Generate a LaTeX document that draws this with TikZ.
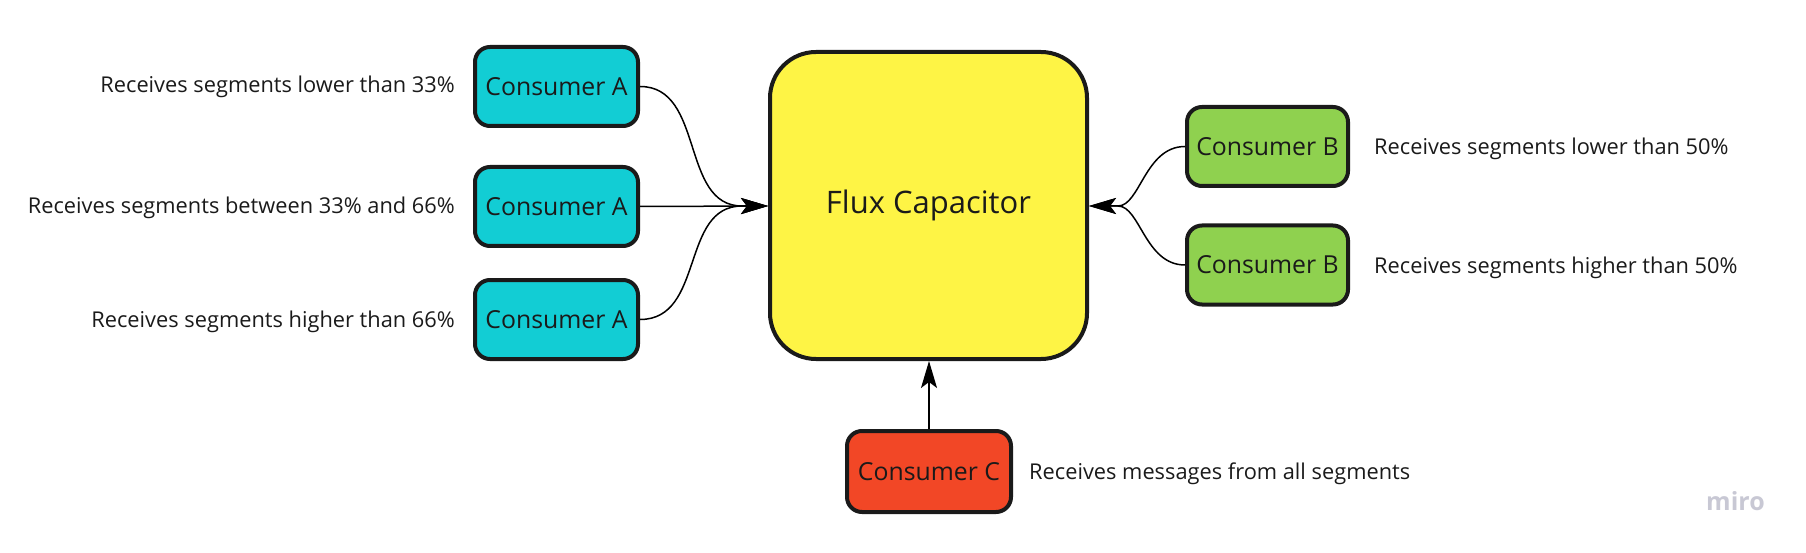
\documentclass[tikz,border=0pt]{standalone}
\usepackage{fontspec}
\setmainfont{Open Sans}
\usetikzlibrary{arrows.meta}
\definecolor{cyanA}{HTML}{12CDD4}
\definecolor{greenB}{HTML}{8FD14F}
\definecolor{redC}{HTML}{F24726}
\definecolor{yellowF}{HTML}{FEF445}
\definecolor{edgeK}{HTML}{1A1A1A}
\definecolor{miroG}{HTML}{C8C8D4}
\tikzset{
  cbox/.style={draw=edgeK, line width=4pt, rounded corners=15pt, inner sep=0pt,
    minimum height=79pt, font=\fontsize{24.8}{30}\selectfont, text=edgeK},
  lbl/.style={inner sep=0pt, font=\fontsize{21.8}{26}\selectfont, text=edgeK},
  conn/.style={line width=1.5pt, black},
  tip/.style={-{Stealth[length=27pt,width=16pt,inset=6pt]}},
}
\begin{document}
\begin{tikzpicture}[x=1pt,y=-1pt]
\useasboundingbox (0,0) rectangle (1806,553);
% main
\node[cbox, fill=yellowF, rounded corners=46pt, minimum width=317pt, minimum height=307pt,
  font=\fontsize{31}{36}\selectfont] (F) at (928.5,205.5) {Flux Capacitor};
% consumers A
\node[cbox, fill=cyanA, minimum width=163pt] (A1) at (556.5,86.5) {Consumer A};
\node[cbox, fill=cyanA, minimum width=163pt] (A2) at (556.5,206.5) {Consumer A};
\node[cbox, fill=cyanA, minimum width=163pt] (A3) at (556.5,319.5) {Consumer A};
% consumers B
\node[cbox, fill=greenB, minimum width=161pt] (B1) at (1267.5,146.5) {Consumer B};
\node[cbox, fill=greenB, minimum width=161pt] (B2) at (1267.5,265) {Consumer B};
% consumer C
\node[cbox, fill=redC, minimum width=164pt, minimum height=81pt] (C) at (929,471.5) {Consumer C};
% merge points
\coordinate (mA) at (742,206);
\coordinate (mB) at (1118,206);
% labels
\node[lbl, anchor=base east] (LA1) at (455,93) {Receives segments lower than 33\%};
\node[lbl, anchor=base east] (LA2) at (455,214) {Receives segments between 33\% and 66\%};
\node[lbl, anchor=base east] (LA3) at (455,327) {Receives segments higher than 66\%};
\node[lbl, anchor=base west] (LB1) at (1374,155) {Receives segments lower than 50\%};
\node[lbl, anchor=base west] (LB2) at (1374,273) {Receives segments higher than 50\%};
\node[lbl, anchor=base west] (LC) at (1029,479) {Receives messages from all segments};
\node[inner sep=0pt, anchor=base west, text=miroG, font=\fontsize{25}{28}\selectfont\bfseries] (miro) at (1706,510) {miro};
% connectors
\draw[conn, tip] (A1.east) .. controls (705,86.5) and (680,206) .. (mA) -- (F.west |- mA);
\draw[conn, tip] (A2.east) -- (F.west |- mA);
\draw[conn, tip] (A3.east) .. controls (705,319.5) and (680,206) .. (mA) -- (F.west |- mA);
\draw[conn, tip] (B1.west) .. controls (1145,146.5) and (1140,206) .. (mB) -- (F.east |- mB);
\draw[conn, tip] (B2.west) .. controls (1145,265) and (1140,206) .. (mB) -- (F.east |- mB);
\draw[conn, tip] (C.north) -- (F.south -| C.north);
\end{tikzpicture}
\end{document}
